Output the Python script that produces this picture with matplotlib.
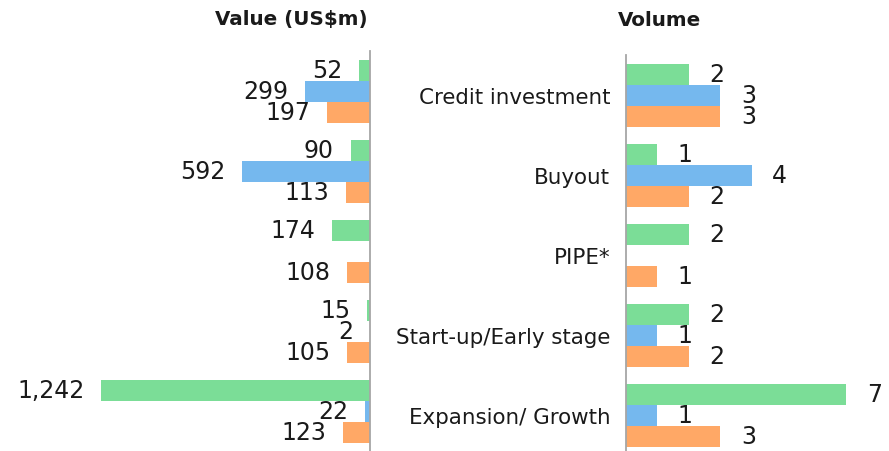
import matplotlib
matplotlib.use("Agg")
import matplotlib.pyplot as plt
import numpy as np

categories = ["Credit investment", "Buyout", "PIPE*", "Start-up/Early stage", "Expansion/ Growth"]
value_green = [52, 90, 174, 15, 1242]
value_blue = [299, 592, None, 2, 22]
value_orange = [197, 113, 108, 105, 123]
volume_green = [2, 1, 2, 2, 7]
volume_blue = [3, 4, None, 1, 1]
volume_orange = [3, 2, 1, 2, 3]

GREEN = "#7BDD97"
BLUE = "#75B8EE"
ORANGE = "#FFA866"
SPINE = "#A6A6A6"
TXT = "#1a1a1a"

plt.rcParams['font.family'] = ['DejaVu Sans']

W, H = 889, 452
fig = plt.figure(figsize=(W / 100, H / 100), dpi=100)

axL = fig.add_axes([0, 0, 370 / W, 400 / H])
axR = fig.add_axes([625.5 / W, -4 / H, (W - 625.5) / W, 400 / H])

y = np.arange(len(categories))
bh = 0.2625
series_v = [(value_green, GREEN, -bh), (value_blue, BLUE, 0), (value_orange, ORANGE, bh)]
series_n = [(volume_green, GREEN, -bh), (volume_blue, BLUE, 0), (volume_orange, ORANGE, bh)]

for vals, col, off in series_v:
    for i, v in enumerate(vals):
        if v is None:
            continue
        axL.barh(y[i] + off, -v, height=bh, color=col, edgecolor='none')
        axL.annotate(f"{v:,}", xy=(-v, y[i] + off), xytext=(-12, 0), textcoords='offset points',
                     ha='right', va='center', fontsize=17, color=TXT)

for vals, col, off in series_n:
    for i, v in enumerate(vals):
        if v is None:
            continue
        axR.barh(y[i] + off, v, height=bh, color=col, edgecolor='none')
        axR.annotate(f"{v}", xy=(v, y[i] + off), xytext=(15, 0), textcoords='offset points',
                     ha='left', va='center', fontsize=17, color=TXT)

axL.set_xlim(-370 / ((370 - 101) / 1242), 0)
axR.set_xlim(0, (W - 625.5) / ((846 - 625.5) / 7))
for ax in (axL, axR):
    ax.set_ylim(len(categories) - 0.5, -0.5)
    ax.set_xticks([])
    for s in ax.spines.values():
        s.set_visible(False)
    ax.patch.set_alpha(0)

axL.set_yticks([])
axL.spines['right'].set_visible(True)
axL.spines['right'].set_color(SPINE)
axL.spines['right'].set_linewidth(1.3)

axR.set_yticks(y)
axR.set_yticklabels(categories, fontsize=15.4, color=TXT)
axR.tick_params(axis='y', length=0, pad=11)
axR.spines['left'].set_visible(True)
axR.spines['left'].set_color(SPINE)
axR.spines['left'].set_linewidth(1.3)

fig.text(291 / W, 1 - 20 / H, "Value (US$m)", ha='center', va='center', fontsize=14.3,
         fontweight='bold', color=TXT)
fig.text(660 / W, 1 - 20 / H, "Volume", ha='center', va='center', fontsize=14.3,
         fontweight='bold', color=TXT)

fig.savefig("out.png", dpi=100)
